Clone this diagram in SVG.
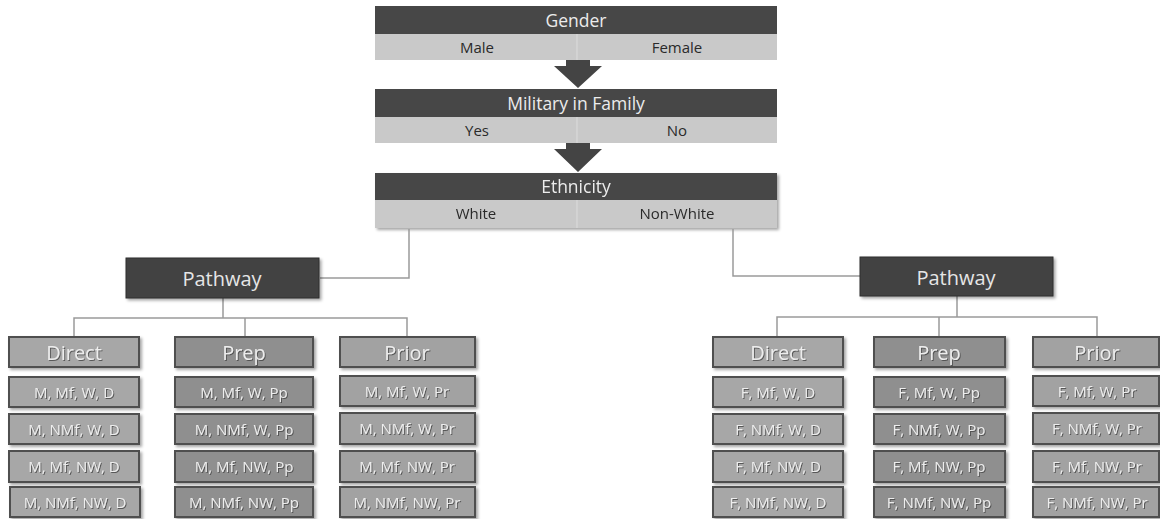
<svg xmlns="http://www.w3.org/2000/svg" width="1160" height="519" viewBox="0 0 1160 519">
<defs>
<filter id="sh" x="-10%" y="-20%" width="130%" height="160%">
<feDropShadow dx="2" dy="2" stdDeviation="1.5" flood-color="#000" flood-opacity="0.35"/>
</filter>
<filter id="ts" x="-10%" y="-30%" width="120%" height="160%">
<feDropShadow dx="1" dy="1" stdDeviation="0.5" flood-color="#444" flood-opacity="0.8"/>
</filter>
</defs>
<style>
text{font-family:"Open Sans","Noto Sans","Liberation Sans",sans-serif;text-anchor:middle;dominant-baseline:central}
.hd{fill:#474747}
.sub{fill:#c9c9c9}
.ht{fill:#ececec;font-size:17.5px}
.st{fill:#2a2a2a;font-size:15px}
.pw{fill:#424242;stroke:#2e2e2e;stroke-width:1}
.pt{fill:#e6e6e6;font-size:20px}
.cd{fill:#a7a7a7;stroke:#505050;stroke-width:2}
.cp{fill:#8f8f8f;stroke:#505050;stroke-width:2}
.cr{fill:#a2a2a2;stroke:#505050;stroke-width:2}
.ct{fill:#ededed;font-size:20px}
.cc{fill:#ededed;font-size:15px}
.ln{fill:none;stroke:#9a9a9a;stroke-width:1.5}
.ar{fill:#444}
</style>
<g id="gender">
<rect class="hd" x="375" y="6" width="402" height="28"/>
<rect class="sub" x="375" y="34" width="402" height="26"/>
<line x1="577" y1="34" x2="577" y2="60" stroke="#dcdcdc" stroke-width="1"/>
<text class="ht" x="576" y="20">Gender</text>
<text class="st" x="477" y="47">Male</text>
<text class="st" x="677" y="47">Female</text>
</g>
<g id="military">
<rect class="hd" x="375" y="89" width="402" height="28"/>
<rect class="sub" x="375" y="117" width="402" height="26"/>
<line x1="577" y1="117" x2="577" y2="143" stroke="#dcdcdc" stroke-width="1"/>
<text class="ht" x="576" y="103">Military in Family</text>
<text class="st" x="477" y="130">Yes</text>
<text class="st" x="677" y="130">No</text>
</g>
<g id="ethnicity" filter="url(#sh)">
<rect class="hd" x="375" y="173" width="402" height="27"/>
<rect class="sub" x="375" y="200" width="402" height="28"/>
<line x1="577" y1="200" x2="577" y2="228" stroke="#dcdcdc" stroke-width="1"/>
<text class="ht" x="576" y="186">Ethnicity</text>
<text class="st" x="476" y="213">White</text>
<text class="st" x="677" y="213">Non-White</text>
</g>
<g id="connectors">
<polygon class="ar" points="566,60 590,60 590,66 602,66 578,88 554,66 566,66"/>
<polygon class="ar" points="566,143 590,143 590,149 602,149 578,172 554,149 566,149"/>
<polyline class="ln" points="409,229 409,278 320,278"/>
<polyline class="ln" points="733,229 733,276 860,276"/>
<polyline class="ln" points="223,298 223,318"/>
<polyline class="ln" points="74,336 74,318 407,318 407,336"/>
<polyline class="ln" points="245,318 245,336"/>
<polyline class="ln" points="957,296 957,317"/>
<polyline class="ln" points="777,336 777,317 1097,317 1097,336"/>
<polyline class="ln" points="939,317 939,336"/>
</g>
<g id="pathway-left">
<rect class="pw" x="126" y="258" width="193" height="40" filter="url(#sh)"/>
<text class="pt" x="222" y="278">Pathway</text>
</g>
<g id="pathway-right">
<rect class="pw" x="860" y="257" width="193" height="39" filter="url(#sh)"/>
<text class="pt" x="956" y="277">Pathway</text>
</g>
<g id="direct-left" filter="url(#sh)">
<rect class="cd" x="9" y="337" width="130" height="30"/>
<rect class="cd" x="9" y="377" width="130" height="30"/>
<rect class="cd" x="9" y="414" width="130" height="30"/>
<rect class="cd" x="9" y="451" width="130" height="31"/>
<rect class="cd" x="10" y="487" width="130" height="30"/>
</g>
<g id="prep-left" filter="url(#sh)">
<rect class="cp" x="175" y="337" width="138" height="30"/>
<rect class="cp" x="175" y="377" width="138" height="30"/>
<rect class="cp" x="175" y="414" width="138" height="30"/>
<rect class="cp" x="175" y="451" width="138" height="31"/>
<rect class="cp" x="175" y="487" width="138" height="30"/>
</g>
<g id="prior-left" filter="url(#sh)">
<rect class="cr" x="340" y="337" width="135" height="30"/>
<rect class="cr" x="340" y="376" width="135" height="30"/>
<rect class="cr" x="340" y="413" width="135" height="31"/>
<rect class="cr" x="340" y="451" width="135" height="31"/>
<rect class="cr" x="340" y="487" width="135" height="30"/>
</g>
<g id="direct-right" filter="url(#sh)">
<rect class="cd" x="713" y="337" width="130" height="30"/>
<rect class="cd" x="713" y="377" width="130" height="30"/>
<rect class="cd" x="713" y="414" width="130" height="30"/>
<rect class="cd" x="713" y="451" width="130" height="31"/>
<rect class="cd" x="713" y="487" width="130" height="30"/>
</g>
<g id="prep-right" filter="url(#sh)">
<rect class="cp" x="874" y="337" width="131" height="30"/>
<rect class="cp" x="874" y="377" width="131" height="30"/>
<rect class="cp" x="874" y="414" width="131" height="30"/>
<rect class="cp" x="874" y="451" width="131" height="31"/>
<rect class="cp" x="874" y="487" width="131" height="30"/>
</g>
<g id="prior-right" filter="url(#sh)">
<rect class="cr" x="1033" y="337" width="126" height="30"/>
<rect class="cr" x="1033" y="376" width="126" height="30"/>
<rect class="cr" x="1033" y="413" width="126" height="31"/>
<rect class="cr" x="1033" y="451" width="126" height="31"/>
<rect class="cr" x="1033" y="487" width="126" height="30"/>
</g>
<g id="labels" filter="url(#ts)">
<text class="ct" x="74" y="352">Direct</text>
<text class="cc" x="74" y="392">M, Mf, W, D</text>
<text class="cc" x="74" y="429">M, NMf, W, D</text>
<text class="cc" x="74" y="466">M, Mf, NW, D</text>
<text class="cc" x="75" y="502">M, NMf, NW, D</text>
<text class="ct" x="244" y="352">Prep</text>
<text class="cc" x="244" y="392">M, Mf, W, Pp</text>
<text class="cc" x="244" y="429">M, NMf, W, Pp</text>
<text class="cc" x="244" y="466">M, Mf, NW, Pp</text>
<text class="cc" x="244" y="502">M, NMf, NW, Pp</text>
<text class="ct" x="407" y="352">Prior</text>
<text class="cc" x="407" y="391">M, Mf, W, Pr</text>
<text class="cc" x="407" y="428">M, NMf, W, Pr</text>
<text class="cc" x="407" y="466">M, Mf, NW, Pr</text>
<text class="cc" x="407" y="502">M, NMf, NW, Pr</text>
<text class="ct" x="778" y="352">Direct</text>
<text class="cc" x="778" y="392">F, Mf, W, D</text>
<text class="cc" x="778" y="429">F, NMf, W, D</text>
<text class="cc" x="778" y="466">F, Mf, NW, D</text>
<text class="cc" x="778" y="502">F, NMf, NW, D</text>
<text class="ct" x="939" y="352">Prep</text>
<text class="cc" x="939" y="392">F, Mf, W, Pp</text>
<text class="cc" x="939" y="429">F, NMf, W, Pp</text>
<text class="cc" x="939" y="466">F, Mf, NW, Pp</text>
<text class="cc" x="939" y="502">F, NMf, NW, Pp</text>
<text class="ct" x="1097" y="352">Prior</text>
<text class="cc" x="1097" y="391">F, Mf, W, Pr</text>
<text class="cc" x="1097" y="428">F, NMf, W, Pr</text>
<text class="cc" x="1097" y="466">F, Mf, NW, Pr</text>
<text class="cc" x="1097" y="502">F, NMf, NW, Pr</text>
</g>
</svg>
